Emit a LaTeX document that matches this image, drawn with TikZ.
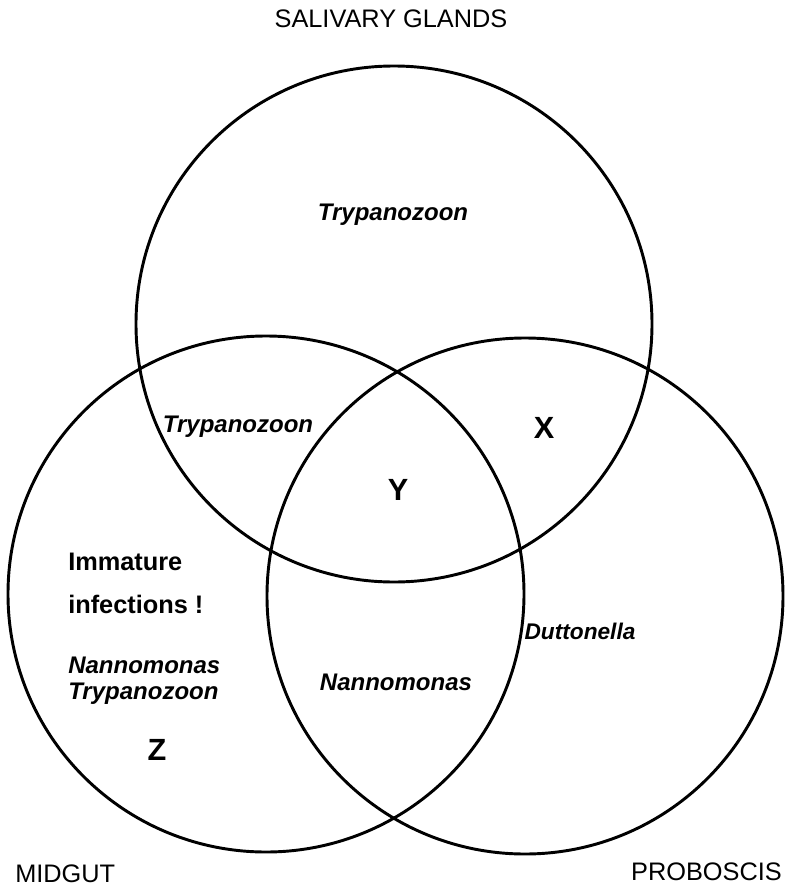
\documentclass[tikz,border=0pt]{standalone}
\usepackage{fontspec}
\setmainfont{Liberation Sans}
\begin{document}
\begin{tikzpicture}[x=0.75pt,y=-0.75pt,
  ring/.style={draw, circle, line width=2.2pt, minimum size=387pt, inner sep=0pt},
  organ/.style={font=\fontsize{19}{21}\selectfont, inner sep=0pt},
  genus/.style={font=\fontsize{18}{20}\selectfont\bfseries\itshape, inner sep=0pt},
  note/.style={font=\fontsize{19}{21}\selectfont\bfseries, inner sep=0pt},
  zone/.style={font=\fontsize{23}{25}\selectfont\bfseries, inner sep=0pt}]
\useasboundingbox (0,0) rectangle (788,889);
% circles
\node[ring] (sal) at (394,324) {};
\node[ring] (mid) at (266,594) {};
\node[ring] (pro) at (525,596) {};
% organ labels
\node[organ, anchor=base] (lsal) at (391,27) {SALIVARY GLANDS};
\node[organ, anchor=base west] (lmid) at (15,882) {MIDGUT};
\node[organ, anchor=base east] (lpro) at (782,880) {PROBOSCIS};
% region labels
\node[genus, anchor=base] (t1) at (393,220) {Trypanozoon};
\node[genus, anchor=base] (t2) at (238,432) {Trypanozoon};
\node[genus, anchor=base] (n1) at (396,690) {Nannomonas};
\node[genus, font=\fontsize{17}{19}\selectfont\bfseries\itshape, anchor=base] (d1) at (580,639) {Duttonella};
\node[note, anchor=base west] (im1) at (68,570) {Immature};
\node[note, anchor=base west] (im2) at (68,613) {infections !};
\node[genus, anchor=base west] (n2) at (68,673) {Nannomonas};
\node[genus, anchor=base west] (t3) at (68,699) {Trypanozoon};
\node[zone, anchor=base] (zx) at (544,438) {X};
\node[zone, anchor=base] (zy) at (398,500) {Y};
\node[zone, anchor=base] (zz) at (157,760) {Z};
\end{tikzpicture}
\end{document}
